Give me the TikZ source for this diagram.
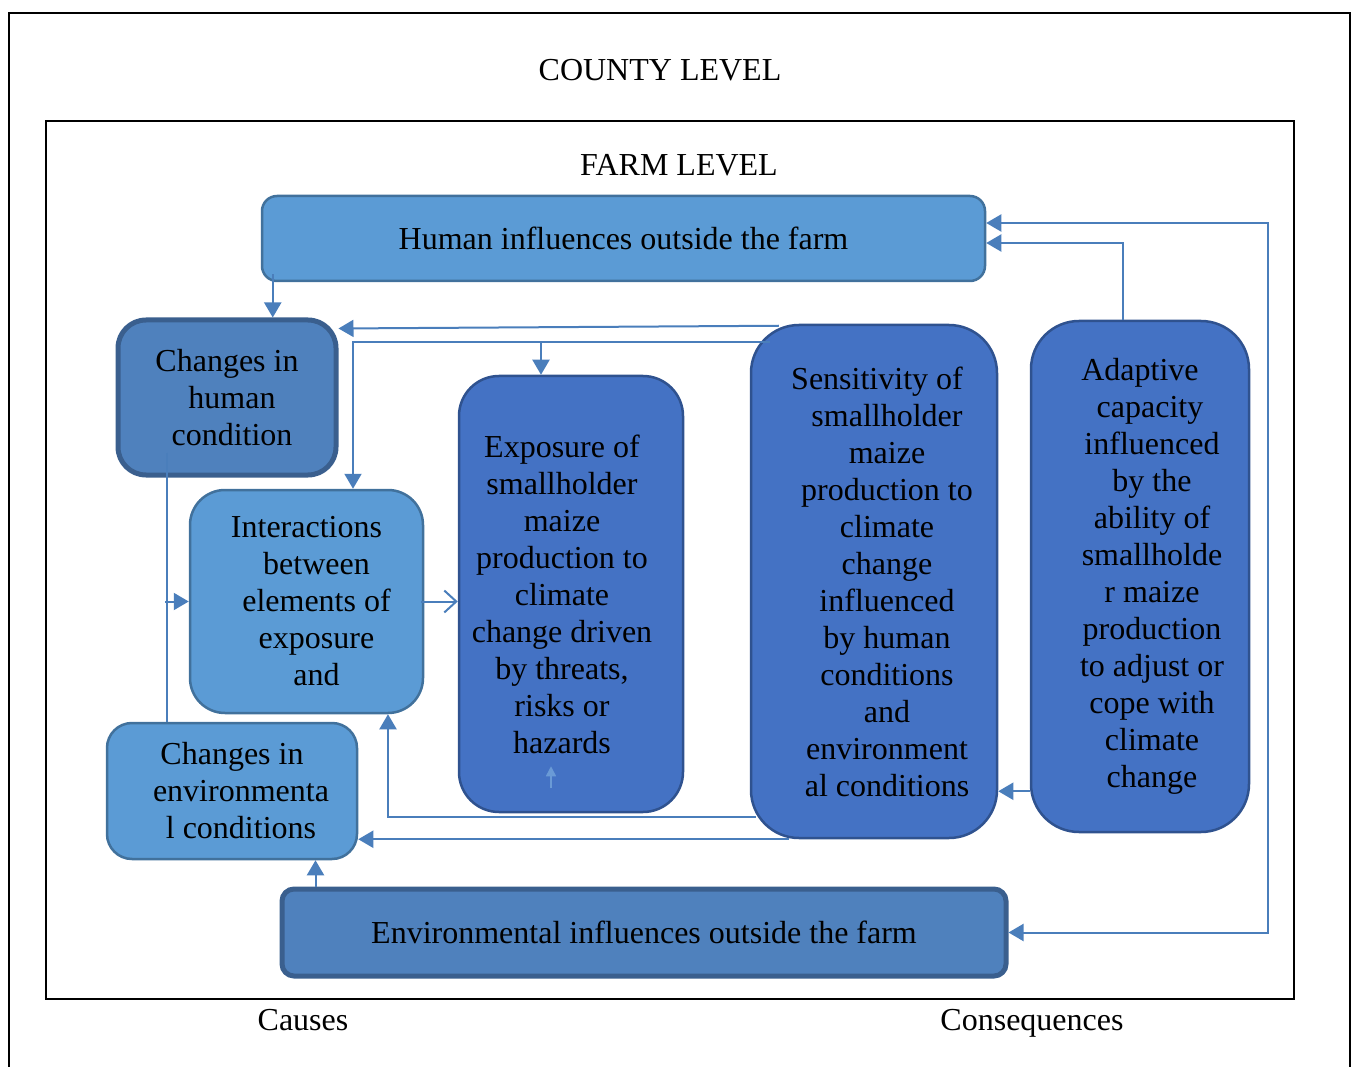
\documentclass[tikz,border=0pt]{standalone}
\usepackage{fontspec}
\setmainfont{Liberation Serif}
\usetikzlibrary{arrows.meta}
\definecolor{lightfill}{HTML}{5B9BD5}
\definecolor{lightline}{HTML}{41719C}
\definecolor{boldfill}{HTML}{4F81BD}
\definecolor{boldline}{HTML}{3A5F8E}
\definecolor{tallfill}{HTML}{4472C4}
\definecolor{tallline}{HTML}{2F528F}
\definecolor{linkcol}{HTML}{4A7EBB}
\definecolor{faintcol}{HTML}{6A9AD6}

\begin{document}
\begin{tikzpicture}[
  x=1pt, y=-1pt,
  font=\fontsize{32}{37}\selectfont,
  base/.style={draw, align=center, inner sep=0pt, line width=2.5pt},
  lightbox/.style={base, fill=lightfill, draw=lightline},
  boldbox/.style={base, fill=boldfill, draw=boldline, line width=5pt},
  tallbox/.style={base, fill=tallfill, draw=tallline},
  arrow/.style={-{Triangle[length=15pt,width=17pt]}, line width=2pt, draw=linkcol},
  botharrow/.style={{Triangle[length=15pt,width=17pt]}-{Triangle[length=15pt,width=17pt]}, line width=2pt, draw=linkcol},
  openarrow/.style={-{Straight Barb[length=12pt,width=22pt]}, line width=2pt, draw=linkcol},
  link/.style={line width=2pt, draw=linkcol},
  faint/.style={-{Triangle[length=10pt,width=10pt]}, line width=1.5pt, draw=faintcol},
  frame/.style={draw, line width=2pt}
]
\useasboundingbox (0,0) rectangle (1358,1067);

% levels
\draw[frame] (9,13) rectangle (1350,1075);
\draw[frame] (46,121) rectangle (1294,999);
\node[anchor=base] (county) at (660,81) {COUNTY LEVEL};
\node[anchor=base] (farm) at (679,176) {FARM LEVEL};
\node[anchor=base] (causes) at (303,1030) {Causes};
\node[anchor=base] (conseq) at (1032,1030) {Consequences};

% boxes
\node[lightbox, rounded corners=15pt, minimum width=723pt, minimum height=85pt] (human) at (623.5,238.5) {Human influences outside the farm};
\node[boldbox, rounded corners=28pt, minimum width=218pt, minimum height=155pt] (chum) at (227,397.5) {Changes in\\\hspace*{10pt}human\\\hspace*{10pt}condition};
\node[lightbox, rounded corners=35pt, minimum width=233pt, minimum height=223pt] (inter) at (306.5,601.5) {Interactions\\\hspace*{20pt}between\\\hspace*{20pt}elements of\\\hspace*{20pt}exposure\\\hspace*{20pt}and};
\node[lightbox, rounded corners=25pt, minimum width=250pt, minimum height=136pt] (cenv) at (232,791) {Changes in\\\hspace*{18pt}environmenta\\\hspace*{18pt}l conditions};
\node[tallbox, rounded corners=40pt, minimum width=224pt, minimum height=436pt] (expo) at (571,594) {\hspace*{-18pt}Exposure of\\\hspace*{-18pt}smallholder\\\hspace*{-18pt}maize\\\hspace*{-18pt}production to\\\hspace*{-18pt}climate\\\hspace*{-18pt}change driven\\\hspace*{-18pt}by threats,\\\hspace*{-18pt}risks or\\\hspace*{-18pt}hazards};
\node[tallbox, rounded corners=48pt, minimum width=246pt, minimum height=513pt] (sens) at (874,581.5) {\hspace*{6pt}Sensitivity of\\\hspace*{26pt}smallholder\\\hspace*{26pt}maize\\\hspace*{26pt}production to\\\hspace*{26pt}climate\\\hspace*{26pt}change\\\hspace*{26pt}influenced\\\hspace*{26pt}by human\\\hspace*{26pt}conditions\\\hspace*{26pt}and\\\hspace*{26pt}environment\\\hspace*{26pt}al conditions};
\node[tallbox, rounded corners=48pt, minimum width=218pt, minimum height=511pt] (adapt) at (1140,576.5) {Adaptive\\\hspace*{20pt}capacity\\\hspace*{24pt}influenced\\\hspace*{24pt}by the\\\hspace*{24pt}ability of\\\hspace*{24pt}smallholde\\\hspace*{24pt}r maize\\\hspace*{24pt}production\\\hspace*{24pt}to adjust or\\\hspace*{24pt}cope with\\\hspace*{24pt}climate\\\hspace*{24pt}change};
\node[boldbox, rounded corners=12pt, minimum width=724pt, minimum height=87pt] (envinf) at (644,932.5) {Environmental influences outside the farm};

% connectors
\coordinate (topline) at ([xshift=20pt,yshift=-18pt]sens.north west);
\coordinate (lowline) at ([xshift=6pt,yshift=22pt]sens.south west);
\coordinate (bottomline) at ([xshift=39pt]sens.south west);
\coordinate (rightx) at (1268,0);

\draw[arrow] ([xshift=12pt,yshift=8pt]human.south west) -- ([xshift=12pt]human.south west |- chum.north);
\draw[arrow] ([xshift=29pt,yshift=-2pt]sens.north west) -- ([yshift=-11pt]chum.north east);
\draw[arrow] (topline) -| ([xshift=46.5pt]inter.north);
\draw[arrow] ([xshift=-30pt]expo.north |- topline) -- ([xshift=-30pt]expo.north);
\draw[link] ([xshift=-60pt,yshift=25pt]chum.south) -- ([xshift=-60pt]chum.south |- cenv.north);
\draw[arrow] ([xshift=-62pt]chum.south |- inter.west) -- (inter.west);
\draw[openarrow] ([xshift=-3pt]inter.east) -- (inter.east -| expo.west);
\draw[arrow] (lowline) -| ([xshift=81.5pt]inter.south);
\draw[arrow] (bottomline) -- (bottomline -| cenv.east);
\draw[arrow] ([yshift=42pt]adapt.south west) -- ([yshift=42pt]adapt.south west -| sens.east);
\draw[arrow] ([xshift=-17pt]adapt.north) |- ([yshift=-4.5pt]human.east);
\draw[botharrow] ([yshift=15.5pt]human.east) -| (rightx |- envinf.east) -- (envinf.east);
\draw[arrow] ([xshift=36pt]envinf.north west) -- ([xshift=36pt]envinf.north west |- cenv.south);
\draw[faint] ([xshift=-20pt,yshift=25pt]expo.south) -- ([xshift=-20pt,yshift=47pt]expo.south);

\end{tikzpicture}
\end{document}
